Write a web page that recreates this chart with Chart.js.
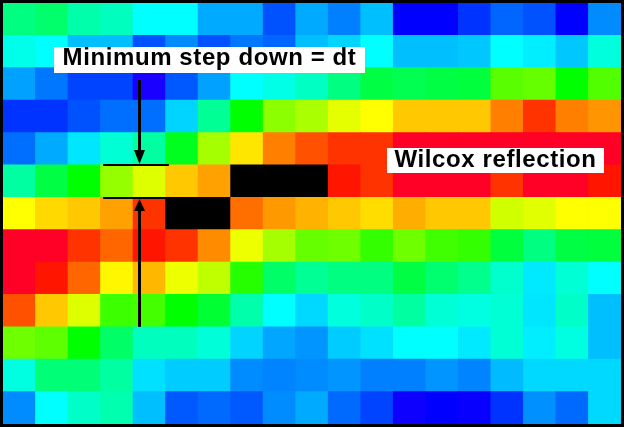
<!DOCTYPE html>
<html><head><meta charset="utf-8">
<style>html,body{margin:0;padding:0;background:#000;}#w{position:relative;width:624px;height:427px;}canvas{display:block;}</style>
<script src="https://cdn.jsdelivr.net/npm/chart.js@4"></script>
</head><body><div id="w"><canvas id="c" width="624" height="427"></canvas></div>
<script>
// Trace number (columns) and amplitude hue in degrees, per time-sample row. null = clipped, shown black.
const traces = [1,2,3,4,5,6,7,8,9,10,11,12,13,14,15,16,17,18,19];
const row0  = [150,145,160,165,180,180,200,200,221,200,210,195,240,240,228,216,221,240,207];
const row1  = [175,180,195,195,221,207,221,212,216,195,190,180,195,195,193,180,184,193,172];
const row2  = [202,212,224,224,246,219,202,180,174,166,150,136,139,136,134,99,96,120,101];
const row3  = [228,228,221,214,214,190,155,120,87,80,66,60,47,47,47,30,12,30,35];
const row4  = [214,200,186,170,158,127,81,54,30,19,12,12,-9,-9,-9,-9,-9,-9,-9];
const row5  = [158,136,120,85,68,47,38,null,null,null,5,12,-9,-9,-9,12,-9,-9,5];
const row6  = [60,51,47,38,12,null,null,26,36,42,47,52,41,47,47,71,67,60,60];
const row7  = [-9,-9,12,24,5,12,33,64,81,96,94,108,94,105,108,134,150,136,134];
const row8  = [-9,5,24,58,43,64,75,111,144,155,150,150,136,146,153,168,185,170,180];
const row9  = [19,47,68,106,104,120,132,160,180,189,172,167,158,170,173,170,186,167,195];
const row10 = [94,98,120,144,165,165,171,190,201,205,192,187,180,180,185,170,184,173,195];
const row11 = [173,148,148,158,187,192,192,207,209,207,205,210,210,205,209,196,189,189,189];
const row12 = [207,180,167,161,195,219,215,219,207,200,215,224,243,240,242,228,206,215,189];
const rows = [row0,row1,row2,row3,row4,row5,row6,row7,row8,row9,row10,row11,row12];

const labelA = "Minimum step down = dt";
const labelB = "Wilcox reflection";

function cellColor(h){
  return h === null ? '#000' : `hsl(${h},100%,50%)`;
}
// one stacked dataset per row, bottom row first
const datasets = rows.slice().reverse().map((r,i)=>({
  label:'row '+(12-i),
  data:r.map(()=>1),
  backgroundColor:r.map(cellColor),
  borderWidth:0,
  inflateAmount:0.4,
  barPercentage:1,
  categoryPercentage:1
}));

const overlay = {
  id:'overlay',
  afterDatasetsDraw(chart){
    const {ctx,scales:{x,y}} = chart;
    const px = v=>x.getPixelForValue(v), py = v=>y.getPixelForValue(v);
    ctx.save();
    const box=(txt,x0,x1,y0,y1,base)=>{
      ctx.fillStyle='#fff';
      ctx.fillRect(x0,y0,x1-x0,y1-y0);
      ctx.fillStyle='#000';
      ctx.font='bold 24px "Liberation Sans"';
      ctx.letterSpacing='0.6px';
      ctx.textAlign='center';ctx.textBaseline='alphabetic';
      ctx.fillText(txt,(x0+x1)/2,base);
    };
    box(labelA,54,365,47,73,65);
    box(labelB,387,604,148,173,167);
    // step-down markers
    const cx=139.5;
    ctx.strokeStyle='#000';ctx.fillStyle='#000';
    ctx.lineWidth=2;
    [165,198].forEach(yy=>{
      ctx.beginPath();ctx.moveTo(px(2.58),yy);ctx.lineTo(px(4.6),yy);ctx.stroke();
    });
    ctx.lineWidth=3;
    ctx.beginPath();ctx.moveTo(cx,80);ctx.lineTo(cx,152);ctx.stroke();
    ctx.beginPath();ctx.moveTo(cx,209);ctx.lineTo(cx,py(3));ctx.stroke();
    ctx.beginPath();ctx.moveTo(cx-5.5,150);ctx.lineTo(cx+5.5,150);ctx.lineTo(cx,164);ctx.closePath();ctx.fill();
    ctx.beginPath();ctx.moveTo(cx-5.5,211);ctx.lineTo(cx+5.5,211);ctx.lineTo(cx,199);ctx.closePath();ctx.fill();
    ctx.restore();
  }
};

new Chart(document.getElementById('c'),{
  type:'bar',
  data:{labels:traces,datasets},
  options:{
    responsive:false,animation:false,devicePixelRatio:1,
    layout:{padding:{left:3,right:3,top:3,bottom:3}},
    plugins:{legend:{display:false},tooltip:{enabled:false},title:{display:false}},
    scales:{
      x:{display:false,stacked:true,offset:true},
      y:{display:false,stacked:true,min:0,max:13}
    }
  },
  plugins:[overlay]
});
</script></body></html>
